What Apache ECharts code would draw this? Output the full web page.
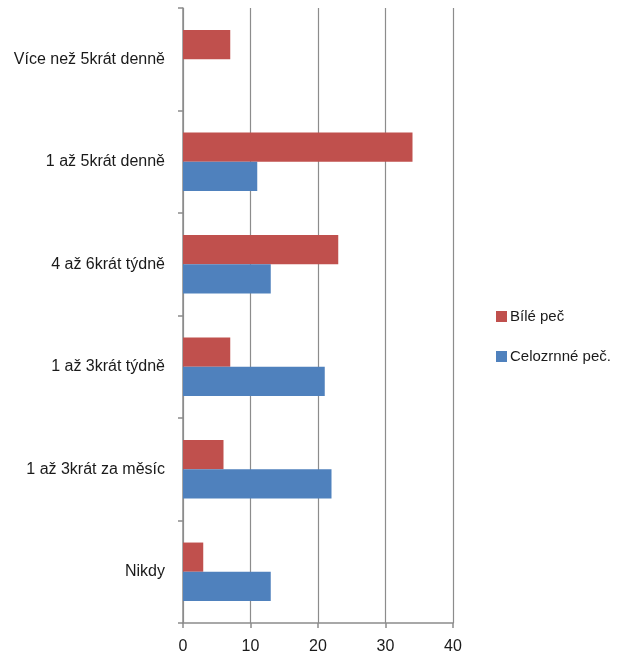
<!DOCTYPE html>
<html>
<head>
<meta charset="utf-8">
<script src="https://cdn.jsdelivr.net/npm/echarts@6/dist/echarts.min.js"></script>
<style>
  html, body { margin: 0; padding: 0; background: #fff; }
  #chart { width: 618px; height: 659px; }
</style>
</head>
<body>
<div id="chart"></div>
<script>
// categories top to bottom
var categories = ['Více než 5krát denně', '1 až 5krát denně', '4 až 6krát týdně', '1 až 3krát týdně', '1 až 3krát za měsíc', 'Nikdy']
var bilePec = [7, 34, 23, 7, 6, 3]
var celozrnnePec = [0, 11, 13, 21, 22, 13]
var seriesNames = ['Bílé peč', 'Celozrnné peč.']
var xTicks = [0, 10, 20, 30, 40]

var myChart = echarts.init(document.getElementById('chart'))
var font = 'Liberation Sans'
var option = {
  animation: false,
  color: ['#C0504D', '#4F81BD'],
  textStyle: { fontFamily: font },
  grid: { left: 183, right: 165, top: 8, bottom: 36 },
  legend: {
    orient: 'vertical',
    left: 491,
    top: 304,
    itemWidth: 11,
    itemHeight: 11,
    itemGap: 25,
    icon: 'rect',
    textStyle: { fontSize: 15, color: '#1a1a1a', fontFamily: font, padding: [0, 0, 0, -2] },
    data: seriesNames
  },
  xAxis: {
    type: 'value',
    min: xTicks[0],
    max: xTicks[xTicks.length - 1],
    interval: 10,
    axisLine: { show: true, lineStyle: { color: '#8c8c8c', width: 1.5 } },
    axisTick: { show: true, length: 5, lineStyle: { color: '#8c8c8c', width: 1.5 } },
    axisLabel: { color: '#1a1a1a', fontSize: 16, margin: 16 },
    splitLine: { show: true, lineStyle: { color: '#8c8c8c', width: 1.2 } }
  },
  yAxis: {
    type: 'category',
    inverse: true,
    data: categories,
    axisLine: { show: true, lineStyle: { color: '#8c8c8c', width: 1.5 } },
    axisTick: { show: true, length: 5, lineStyle: { color: '#8c8c8c', width: 1.5 } },
    axisLabel: { color: '#1a1a1a', fontSize: 16, margin: 18 }
  },
  series: [
    {
      name: seriesNames[0],
      type: 'bar',
      data: bilePec,
      barGap: '0%',
      barCategoryGap: '43%'
    },
    {
      name: seriesNames[1],
      type: 'bar',
      data: celozrnnePec,
      barGap: '0%',
      barCategoryGap: '43%'
    }
  ]
}
myChart.setOption(option)
</script>
</body>
</html>
